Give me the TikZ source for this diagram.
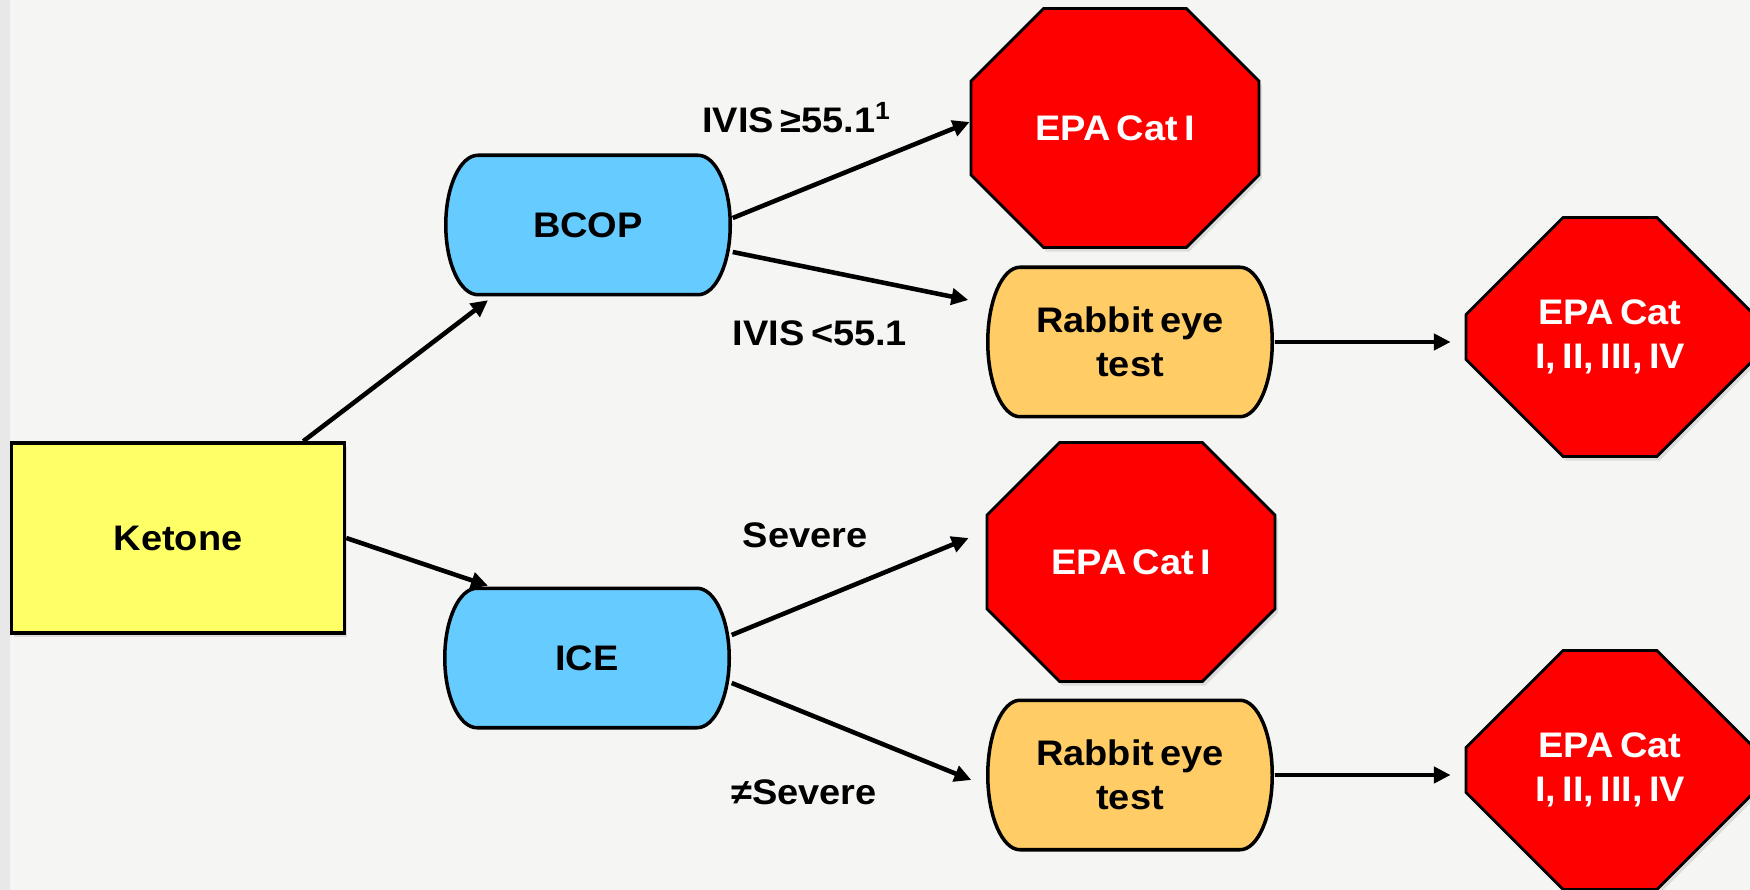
\documentclass[tikz,border=0pt]{standalone}
\usepackage{fontspec}
\setmainfont{Liberation Sans}[FakeStretch=1.07,WordSpace=0.6]
\usetikzlibrary{arrows.meta,shapes.misc,shadows,calc}
\definecolor{bgcol}{RGB}{245,245,243}
\definecolor{stripcol}{RGB}{232,232,232}
\definecolor{ketoneyellow}{RGB}{255,255,102}
\definecolor{assayblue}{RGB}{102,204,255}
\definecolor{rabbitorange}{RGB}{255,204,102}
\definecolor{epared}{RGB}{255,0,0}
\begin{document}
\begin{tikzpicture}[
    font=\fontsize{10.1}{12.5}\selectfont\bfseries,
    softshadow/.style={drop shadow={shadow xshift=0.8pt,shadow yshift=-1.2pt,opacity=0.2}},
    startbox/.style={draw,line width=1pt,fill=ketoneyellow,minimum width=3.33cm,minimum height=1.9cm,softshadow},
    capsule/.style={minimum width=2.88cm,minimum height=1.43cm,align=center,
      path picture={\path[draw=black,line width=1pt,fill=#1]
        let \p1=(path picture bounding box.north west),
            \p2=(path picture bounding box.south east),
            \n1={(\y1-\y2)/2-0.5pt} in
        (\x1+0.34cm,\y1-0.5pt) -- (\x2-0.34cm,\y1-0.5pt)
        arc[start angle=90,end angle=-90,x radius=0.34cm-0.5pt,y radius=\n1]
        -- (\x1+0.34cm,\y2+0.5pt)
        arc[start angle=270,end angle=90,x radius=0.34cm-0.5pt,y radius=\n1] -- cycle;}},
    assay/.style={capsule=assayblue},
    rabbit/.style={capsule=rabbitorange,minimum height=1.53cm},
    cat/.style={chamfered rectangle,chamfered rectangle sep=0.6cm,draw,line width=0.8pt,fill=epared,text=white,minimum width=2.88cm,minimum height=2.39cm,inner sep=0pt,align=center,softshadow},
    arr/.style={-{Triangle[length=4.8pt,width=4.6pt]},line width=1.3pt},
  ]
    % Slide background
    \fill[bgcol] (0,0) rectangle (17.5,-8.9);
    \fill[stripcol] (0,0) rectangle (0.1,-8.9);
    \useasboundingbox (0,0) rectangle (17.5,-8.9);
    % Boxes
    \node[startbox] (ketone) at (1.78,-5.38) {Ketone};
    \node[assay] (bcop) at (5.88,-2.25) {BCOP};
    \node[assay] (ice) at (5.87,-6.58) {ICE};
    \node[cat] (cat1a) at (11.15,-1.28) {EPA Cat I};
    \node[rabbit] (rabbita) at (11.30,-3.42) {Rabbit eye\\test};
    \node[cat] (cat4a) at (16.10,-3.37) {EPA Cat\\I, II, III, IV};
    \node[cat] (cat1b) at (11.31,-5.62) {EPA Cat I};
    \node[rabbit] (rabbitb) at (11.30,-7.75) {Rabbit eye\\test};
    \node[cat] (cat4b) at (16.10,-7.70) {EPA Cat\\I, II, III, IV};
    % Branch labels
    \node (hi) at (7.97,-1.18) {IVIS ≥55.1\textsuperscript{1}};
    \node (lo) at (8.20,-3.33) {IVIS <55.1};
    \node (sev) at (8.05,-5.35) {Severe};
    \node (nsev) at (8.04,-7.92) {≠Severe};
    % Arrows
    \draw[arr] ([xshift=-0.43cm]ketone.north east) -- ([xshift=-1cm,yshift=-0.03cm]bcop.south);
    \draw[arr] (ketone.east) -- ([xshift=-0.99cm]ice.north);
    \draw[arr] ([yshift=0.07cm]bcop.east) -- ([yshift=0.06cm]cat1a.west);
    \draw[arr] ([yshift=-0.27cm]bcop.east) -- ([shift={(-0.17,0.42)}]rabbita.west);
    \draw[arr] ([yshift=0.23cm]ice.east) -- ([shift={(-0.17,0.24)}]cat1b.west);
    \draw[arr] ([yshift=-0.25cm]ice.east) -- ([shift={(-0.14,-0.05)}]rabbitb.west);
    \draw[arr,shorten >=0.14cm] (rabbita.east) -- (rabbita.east -| cat4a.west);
    \draw[arr,shorten >=0.14cm] (rabbitb.east) -- (rabbitb.east -| cat4b.west);
\end{tikzpicture}
\end{document}
